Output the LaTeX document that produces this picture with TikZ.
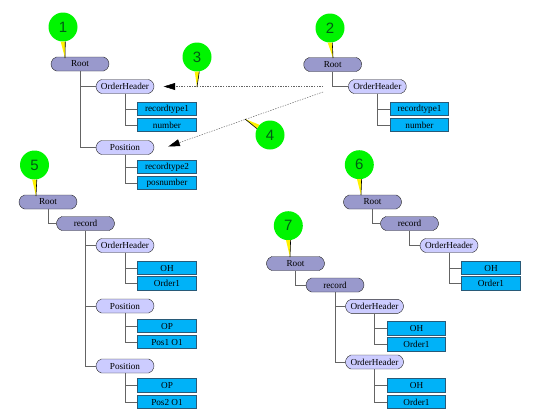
\documentclass[tikz,border=0pt]{standalone}
\usepackage{fontspec}
\setmainfont{Liberation Serif}
\newfontfamily\balloonfont{Liberation Sans}
\usepackage{xcolor}
\usepackage{tikz}
\usetikzlibrary{shapes.misc, arrows.meta, positioning}
\definecolor{TreeDark}{RGB}{153,153,204}
\definecolor{TreeLight}{RGB}{204,204,255}
\definecolor{LeafBlue}{RGB}{0,178,248}
\definecolor{LeafEdge}{RGB}{40,90,120}
\definecolor{PinGreen}{RGB}{0,245,0}
\definecolor{PinText}{RGB}{0,90,20}
\definecolor{LinkGray}{RGB}{100,100,100}
\tikzset{
  darknode/.style={rounded rectangle, rounded rectangle arc length=150, draw=black!85, fill=TreeDark, minimum width=58pt, minimum height=14pt, inner sep=0pt, font=\fontsize{9.2}{9.2}\selectfont},
  lightnode/.style={darknode, fill=TreeLight},
  leafnode/.style={rectangle, draw=LeafEdge, fill=LeafBlue, line width=0.6pt, minimum width=58.5pt, minimum height=13.5pt, inner sep=0pt, font=\fontsize{9.2}{9.2}\selectfont},
  pinnode/.style={circle, fill=PinGreen, minimum size=29pt, inner sep=0pt, text=PinText, font=\balloonfont\fontsize{15}{15}\selectfont},
  treeline/.style={LinkGray, line width=0.6pt},
  refline/.style={LinkGray, line width=0.5pt, dash pattern=on 1.3pt off 1.3pt, -{Triangle[length=11.5pt,width=7pt,black]}}
}
\newcommand{\pintail}[3]{%
  \fill[yellow] (#1.#2-9) -- (#1.#2+9) -- (#3) -- cycle;
  \draw[black, line width=0.6pt] (#1.#2+9) -- (#3);
}
\begin{document}
\begin{tikzpicture}[x=1pt, y=-1pt]
        \useasboundingbox (0,0) rectangle (537,416);
        % first tree
        \node[darknode] (rootA) at (80,64) {Root};
        \node[lightnode] (headerA) at (125,86.5) {OrderHeader};
        \node[leafnode] (typeA) at (167,109) {recordtype1};
        \node[leafnode] (numberA) at (167,125) {number};
        \node[lightnode] (posA) at (125,147.5) {Position};
        \node[leafnode] (typeB) at (167,167) {recordtype2};
        \node[leafnode] (numberB) at (167,183) {posnumber};
        \draw[treeline] (rootA.south) |- (headerA.west);
        \draw[treeline] (rootA.south) |- (posA.west);
        \draw[treeline] (headerA.south) |- (typeA.west);
        \draw[treeline] (headerA.south) |- (numberA.west);
        \draw[treeline] (posA.south) |- (typeB.west);
        \draw[treeline] (posA.south) |- (numberB.west);
        % second tree
        \node[darknode] (rootB) at (332.7,64.5) {Root};
        \node[lightnode] (headerB) at (377.3,86.5) {OrderHeader};
        \node[leafnode] (typeC) at (419.5,109) {recordtype1};
        \node[leafnode] (numberC) at (419.5,125) {number};
        \draw[treeline] (rootB.south) |- (headerB.west);
        \draw[treeline] (headerB.south) |- (typeC.west);
        \draw[treeline] (headerB.south) |- (numberC.west);
        % third tree
        \node[darknode] (rootC) at (48,202) {Root};
        \node[darknode] (recordC) at (85.5,223.5) {record};
        \node[lightnode] (headerC) at (125,245.5) {OrderHeader};
        \node[leafnode] (ohC) at (167,268) {OH};
        \node[leafnode] (orderC) at (167,283.5) {Order1};
        \node[lightnode] (posC) at (125,306) {Position};
        \node[leafnode] (opC) at (167,326) {OP};
        \node[leafnode] (itemC) at (167,342) {Pos1 O1};
        \node[lightnode] (posD) at (125,366) {Position};
        \node[leafnode] (opD) at (167,385.5) {OP};
        \node[leafnode] (itemD) at (167,402) {Pos2 O1};
        \draw[treeline] (rootC.south) |- (recordC.west);
        \draw[treeline] (recordC.south) |- (headerC.west);
        \draw[treeline] (recordC.south) |- (posC.west);
        \draw[treeline] (recordC.south) |- (posD.west);
        \draw[treeline] (headerC.south) |- (ohC.west);
        \draw[treeline] (headerC.south) |- (orderC.west);
        \draw[treeline] (posC.south) |- (opC.west);
        \draw[treeline] (posC.south) |- (itemC.west);
        \draw[treeline] (posD.south) |- (opD.west);
        \draw[treeline] (posD.south) |- (itemD.west);
        % fourth tree
        \node[darknode] (rootD) at (372.5,202) {Root};
        \node[darknode] (recordD) at (409.5,223.5) {record};
        \node[lightnode] (headerD) at (449,245.5) {OrderHeader};
        \node[leafnode] (ohD) at (491,268) {OH};
        \node[leafnode] (orderD) at (491,283.5) {Order1};
        \draw[treeline] (rootD.south) |- (recordD.west);
        \draw[treeline] (recordD.south) |- (headerD.west);
        \draw[treeline] (headerD.south) |- (ohD.west);
        \draw[treeline] (headerD.south) |- (orderD.west);
        % fifth tree
        \node[darknode] (rootE) at (295.5,263.5) {Root};
        \node[darknode] (recordE) at (335,285) {record};
        \node[lightnode] (headerE) at (374.5,306.3) {OrderHeader};
        \node[leafnode] (ohE) at (416.5,328.5) {OH};
        \node[leafnode] (orderE) at (416.5,344.5) {Order1};
        \node[lightnode] (headerF) at (374.5,362) {OrderHeader};
        \node[leafnode] (ohF) at (416.5,385.5) {OH};
        \node[leafnode] (orderF) at (416.5,402) {Order1};
        \draw[treeline] (rootE.south) |- (recordE.west);
        \draw[treeline] (recordE.south) |- (headerE.west);
        \draw[treeline] (recordE.south) |- (headerF.west);
        \draw[treeline] (headerE.south) |- (ohE.west);
        \draw[treeline] (headerE.south) |- (orderE.west);
        \draw[treeline] (headerF.south) |- (ohF.west);
        \draw[treeline] (headerF.south) |- (orderF.west);
        % references between the trees
        \coordinate (startD) at (323,92);
        \draw[refline, shorten <=25pt, shorten >=9.5pt] (headerB.west) -- (headerA.east);
        \draw[refline, shorten >=15pt] (startD) -- ([yshift=-4pt]posA.east);
        % numbered pins
        \coordinate (tipA) at (65,58);
        \coordinate (tipB) at (333,58);
        \coordinate (tipC) at (197,87);
        \coordinate (tipD) at (245,119);
        \coordinate (tipE) at (36,196);
        \coordinate (tipF) at (361,195);
        \coordinate (tipG) at (290,257);
        \node[pinnode] (pinA) at (63,27) {1};
        \node[pinnode] (pinB) at (330,28) {2};
        \node[pinnode] (pinC) at (197,57) {3};
        \node[pinnode] (pinD) at (270,135) {4};
        \node[pinnode] (pinE) at (34.5,165) {5};
        \node[pinnode] (pinF) at (359.3,164.7) {6};
        \node[pinnode] (pinG) at (288.3,225.7) {7};
        \pintail{pinA}{-90}{tipA}
        \pintail{pinB}{-90}{tipB}
        \pintail{pinC}{-90}{tipC}
        \pintail{pinD}{145}{tipD}
        \pintail{pinE}{-90}{tipE}
        \pintail{pinF}{-90}{tipF}
        \pintail{pinG}{-90}{tipG}
      \end{tikzpicture}
\end{document}
